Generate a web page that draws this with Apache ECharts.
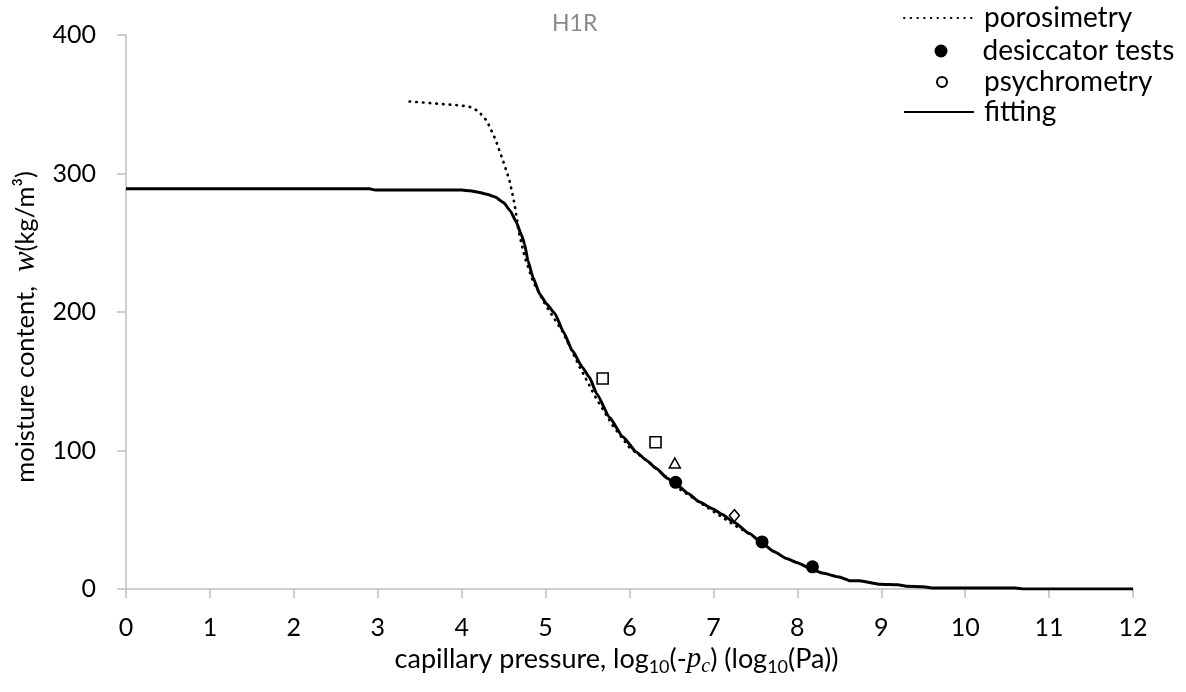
<!DOCTYPE html>
<html>
<head>
<meta charset="utf-8">
<script src="https://cdn.jsdelivr.net/npm/echarts@6/dist/echarts.min.js"></script>
<style>
html,body{margin:0;padding:0;background:#fff;}
#c{width:1186px;height:692px;}
</style>
</head>
<body>
<div id="c"></div>
<script>
// ---- data ----
var xTicks = [0,1,2,3,4,5,6,7,8,9,10,11,12];
var yTicks = [0,100,200,300,400];

var porosimetryX = [3.38,3.6,3.8,4.0,4.1,4.2,4.3,4.4,4.5,4.57,4.63,4.68,4.75,4.85,5.0,5.2,5.4,5.6,5.8,6.0,6.2,6.4,6.6,6.8,7.0,7.2,7.45];
var porosimetryY = [352,351,350,349,348,345,338,325,308,295,278,258,240,222,205,186,161,138,118,102,93,83,72,64,56,48,39];

var fittingX = [0,2.9,2.97,4.0,4.1,4.2,4.3,4.4,4.5,4.58,4.65,4.71,4.75,4.79,4.85,4.93,5.01,5.11,5.21,5.32,5.44,5.52,5.61,5.76,5.92,6.08,6.2,6.32,6.45,6.55,6.7,6.83,6.99,7.1,7.25,7.43,7.58,7.72,7.87,8.0,8.18,8.3,8.5,8.58,8.62,8.74,8.98,9.2,9.3,9.5,9.6,10.6,10.7,12];
var fittingY = [289,289,288,288,287.5,286.5,285,283,279,273,265,256,249,237,225,213,206,199,186,172,160,153,141,124,110,99,93,87,80,76,69,63,58,54,48,40,33,27,22,19,14,11.5,8.6,7,6,6,3.4,3,2,1.7,0.8,0.8,0,0];

var desiccatorX = [6.55,7.58,8.18];
var desiccatorY = [77,34,16];

var squareX = [5.68,6.31];
var squareY = [152,106];
var triangleX = [6.54];
var triangleY = [91];
var diamondX = [7.25];
var diamondY = [53];

var legendNames = ['porosimetry','desiccator tests','psychrometry','fitting'];
var titleText = 'H1R';

function pairs(xs, ys){ return xs.map(function(x,i){ return [x, ys[i]]; }); }

var FONT = 'Lato';
var chart = echarts.init(document.getElementById('c'), null, {renderer:'canvas'});

function legendAt(name, left, centerY, w, h, textPadLeft, icon){
  var lh = 32;
  var d = {name:name};
  if (icon) d.icon = icon;
  return {
    orient:'vertical', left:left, top:centerY - lh/2, padding:0,
    itemWidth:w, itemHeight:h, itemGap:0, selectedMode:false,
    itemStyle: icon ? {} : {opacity:0},
    textStyle:{fontFamily:FONT, fontSize:28, color:'#000', lineHeight:lh, padding:[0,0,0,textPadLeft]},
    data:[d]
  };
}

var option = {
  animation:false,
  backgroundColor:'#fff',
  title:{
    text:titleText, left:552, top:12, padding:0,
    textStyle:{fontFamily:FONT, fontSize:23, fontWeight:'normal', color:'#8a8a8a'}
  },
  legend:[
    legendAt(legendNames[0], 903, 18, 70, 14, 5, null),
    legendAt(legendNames[1], 934.5, 51, 13, 13, 30, 'circle'),
    legendAt(legendNames[2], 936, 82, 10, 10, 32, 'circle'),
    legendAt(legendNames[3], 903, 112, 70, 14, 5, null)
  ],
  grid:{left:126, right:53, top:35, bottom:103, containLabel:false},
  xAxis:{
    type:'value', min:xTicks[0], max:xTicks[xTicks.length-1], interval:1,
    axisLine:{show:true, lineStyle:{color:'#bfbfbf', width:1.5}},
    axisTick:{show:true, inside:false, length:9, lineStyle:{color:'#bfbfbf', width:1.5}},
    splitLine:{show:false},
    axisLabel:{fontFamily:FONT, fontSize:25, color:'#000', margin:26},
    nameLocation:'middle', nameGap:46,
    name:'{a|capillary pressure, log}{s|10}{a|(-}{i|p}{si|c}{a|) (log}{s|10}{a|(Pa))}',
    nameTextStyle:{
      padding:[0,26,0,0],
      rich:{
        a:{fontFamily:FONT, fontSize:27, color:'#000', lineHeight:34, verticalAlign:'middle'},
        s:{fontFamily:FONT, fontSize:18, color:'#000', lineHeight:18, verticalAlign:'bottom'},
        i:{fontFamily:'Liberation Serif', fontStyle:'italic', fontSize:29, color:'#000', lineHeight:34, verticalAlign:'middle'},
        si:{fontFamily:'Liberation Serif', fontStyle:'italic', fontSize:20, color:'#000', lineHeight:18, verticalAlign:'bottom'}
      }
    }
  },
  yAxis:{
    type:'value', min:yTicks[0], max:yTicks[yTicks.length-1], interval:100,
    axisLine:{show:true, lineStyle:{color:'#bfbfbf', width:1.5}},
    axisTick:{show:true, inside:false, length:9, lineStyle:{color:'#bfbfbf', width:1.5}},
    splitLine:{show:false},
    axisLabel:{fontFamily:FONT, fontSize:25, color:'#000', margin:30},
    nameLocation:'middle', nameGap:82, nameRotate:90,
    name:'{a|moisture content,}{g| }{i|w}{a|(kg/m³)}',
    nameTextStyle:{
      padding:[0,30,0,0],
      rich:{
        a:{fontFamily:FONT, fontSize:25.5, color:'#000', lineHeight:32},
        g:{fontFamily:FONT, fontSize:25, width:14, lineHeight:32},
        i:{fontFamily:'Liberation Serif', fontStyle:'italic', fontSize:31, color:'#000', lineHeight:32}
      }
    }
  },
  series:[
    {name:legendNames[0], type:'line', data:pairs(porosimetryX, porosimetryY), showSymbol:false, symbol:'none',
     lineStyle:{color:'#000', width:2.7, type:[0.5,6.2], cap:'round'}, itemStyle:{color:'#000'}, z:3},
    {name:legendNames[3], type:'line', data:pairs(fittingX, fittingY), showSymbol:false, symbol:'none',
     smooth:0.15, smoothMonotone:'x',
     lineStyle:{color:'#000', width:3}, itemStyle:{color:'#000'}, z:4},
    {name:legendNames[1], type:'scatter', data:pairs(desiccatorX, desiccatorY), symbol:'circle', symbolSize:13,
     itemStyle:{color:'#000', opacity:1}, z:5},
    {name:legendNames[2], type:'scatter', data:[], symbol:'circle', symbolSize:10,
     itemStyle:{color:'#fff', borderColor:'#000', borderWidth:1.5, opacity:1}, z:5},
    {name:'sq', type:'scatter', data:pairs(squareX, squareY), symbol:'rect', symbolSize:11,
     itemStyle:{color:'#fff', borderColor:'#000', borderWidth:1.6, opacity:1}, z:5},
    {name:'tri', type:'scatter', data:pairs(triangleX, triangleY), symbol:'triangle', symbolSize:[11,10],
     itemStyle:{color:'#fff', borderColor:'#000', borderWidth:1.5, opacity:1}, z:5},
    {name:'dia', type:'scatter', data:pairs(diamondX, diamondY), symbol:'diamond', symbolSize:[10,12],
     itemStyle:{color:'#fff', borderColor:'#000', borderWidth:1.5, opacity:1}, z:5}
  ]
};
chart.setOption(option);
</script>
</body>
</html>
